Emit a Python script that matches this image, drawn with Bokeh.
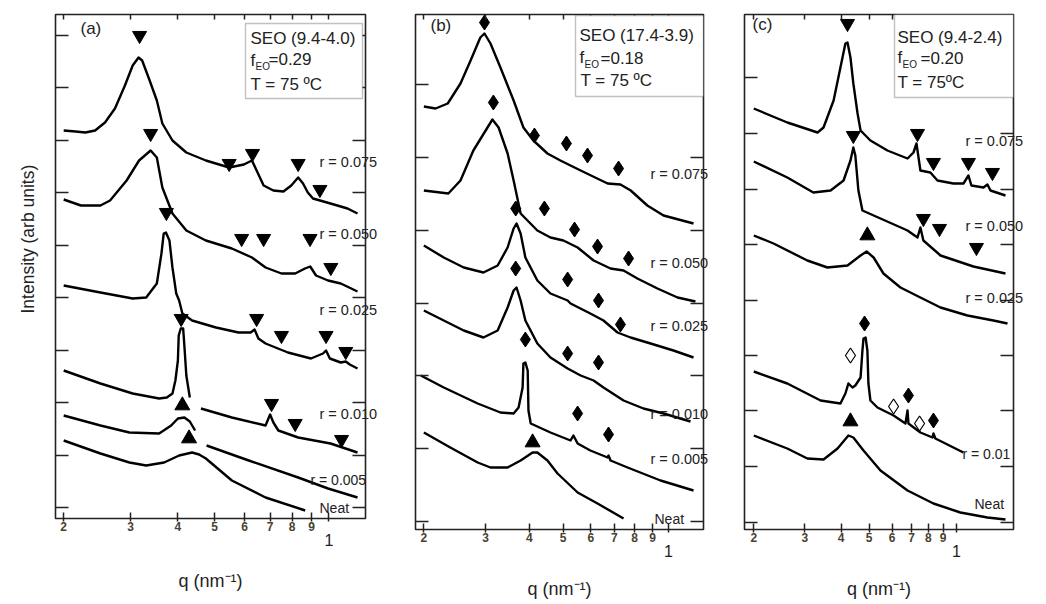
import math
from bokeh.plotting import figure
from bokeh.layouts import row
from bokeh.models import (Range1d, FixedTicker, Label, BoxAnnotation, Title,
                          CustomJSTickFormatter, LogAxis, LinearAxis)
from bokeh.embed import file_html
from bokeh.resources import INLINE

FONT = "Liberation Sans"

# ---------------------------------------------------------------- data
Q_TICKS = [0.2, 0.3, 0.4, 0.5, 0.6, 0.7, 0.8, 0.9, 1.0]

# ---------- panel (a)  SEO (9.4-4.0), intensity in arbitrary offset units
a_075_q = [0.20, 0.215, 0.228, 0.242, 0.257, 0.273, 0.29, 0.304, 0.315, 0.322, 0.337, 0.352, 0.364,
           0.387, 0.421, 0.474, 0.546, 0.597, 0.627, 0.645, 0.673, 0.714, 0.759, 0.796, 0.83, 0.855,
           0.88, 0.908, 1.01, 1.12, 1.19]
a_075_y = [388, 387, 386, 388, 396, 410, 433, 453, 461, 458, 438, 418, 395,
           378, 366, 358, 351, 354, 358, 348, 333, 328, 327, 333, 341, 335,
           326, 320, 315, 310, 305]
a_050_q = [0.20, 0.222, 0.25, 0.265, 0.293, 0.316, 0.339, 0.352, 0.364, 0.387, 0.421, 0.474, 0.555,
           0.627, 0.681, 0.75, 0.815, 0.865, 0.893, 0.925, 0.995, 1.075, 1.19]
a_050_y = [319, 313, 313, 318, 338, 358, 368, 361, 331, 305, 288, 278, 270,
           261, 251, 245, 245, 250, 252, 243, 238, 235, 227]
a_025_q = [0.20, 0.25, 0.304, 0.33, 0.352, 0.362, 0.367, 0.372, 0.38, 0.387, 0.396, 0.403, 0.411,
           0.436, 0.504, 0.578, 0.622, 0.637, 0.652, 0.681, 0.78, 0.897, 0.965, 0.983, 1.006, 1.075,
           1.108, 1.135, 1.19]
a_025_y = [233, 226, 220, 221, 235, 265, 285, 286, 278, 251, 225, 218, 205,
           198, 191, 186, 186, 189, 180, 175, 166, 160, 165, 168, 160, 156,
           157, 154, 150]
a_010_q1 = [0.20, 0.25, 0.304, 0.357, 0.374, 0.387, 0.394, 0.40, 0.402, 0.407, 0.413, 0.416, 0.421, 0.43]
a_010_y1 = [148, 135, 125, 120, 121, 125, 138, 158, 183, 190, 190, 173, 143, 121]
a_010_q2 = [0.46, 0.555, 0.681, 0.693, 0.70, 0.714, 0.736, 0.83, 1.01, 1.19]
a_010_y2 = [110, 101, 93, 100, 104, 96, 88, 81, 75, 66]
a_005_q1 = [0.20, 0.25, 0.298, 0.357, 0.384, 0.40, 0.416, 0.43, 0.444]
a_005_y1 = [103, 93, 86, 85, 93, 100, 101, 97, 88]
a_005_q2 = [0.476, 0.615, 0.83, 0.995, 1.19]
a_005_y2 = [73, 58, 41, 30, 21]
a_neat_q = [0.20, 0.25, 0.298, 0.33, 0.368, 0.403, 0.436, 0.455, 0.474, 0.555, 0.681, 0.866]
a_neat_y = [78, 65, 56, 53, 56, 63, 66, 64, 60, 38, 21, 8]
a_down_q = [0.317, 0.339, 0.546, 0.629, 0.83, 0.947, 0.373, 0.589, 0.673, 0.892, 1.012,
            0.408, 0.645, 0.75, 0.983, 1.108, 0.706, 0.815, 1.08]
a_down_y = [483, 385, 355, 365, 355, 329, 306, 280, 280, 280, 251,
            200, 200, 183, 183, 167, 115, 95, 79]
a_up_q = [0.411, 0.428]
a_up_y = [113, 80]

# ---------- panel (b)  SEO (17.4-3.9)
b_075_q = [0.20, 0.216, 0.234, 0.2545, 0.272, 0.29, 0.298, 0.31, 0.331, 0.361, 0.385, 0.411, 0.451,
           0.491, 0.561, 0.67, 0.729, 0.78, 0.87, 0.968, 1.179]
b_075_y = [423, 421, 426, 446, 469, 492, 496, 486, 462, 429, 402, 389, 376,
           369, 359, 346, 345, 339, 324, 314, 306]
b_050_q = [0.20, 0.235, 0.2545, 0.277, 0.304, 0.314, 0.327, 0.347, 0.361, 0.378, 0.422, 0.46, 0.501,
           0.55, 0.611, 0.683, 0.744, 0.815, 0.93, 1.061, 1.194]
b_050_y = [339, 336, 349, 379, 402, 410, 402, 376, 349, 316, 299, 292, 289,
           282, 269, 261, 259, 251, 241, 232, 228]
b_025_q = [0.20, 0.228, 0.26, 0.296, 0.325, 0.347, 0.361, 0.368, 0.378, 0.39, 0.422, 0.46, 0.515,
           0.525, 0.598, 0.652, 0.715, 0.779, 0.889, 1.033, 1.179]
b_025_y = [284, 272, 262, 257, 264, 282, 301, 306, 296, 272, 249, 236, 229,
           226, 216, 209, 197, 192, 186, 179, 172]
b_010_q = [0.20, 0.228, 0.26, 0.296, 0.325, 0.347, 0.361, 0.368, 0.378, 0.39, 0.422, 0.46, 0.515,
           0.561, 0.611, 0.652, 0.744, 0.848, 0.968, 1.156]
b_010_y = [219, 209, 199, 192, 199, 222, 239, 242, 229, 209, 186, 172, 161,
           154, 149, 142, 129, 121, 116, 108]
b_005_q = [0.196, 0.228, 0.285, 0.331, 0.361, 0.373, 0.383, 0.385, 0.39, 0.396, 0.398, 0.404, 0.46,
           0.525, 0.535, 0.55, 0.598, 0.67, 0.674, 0.683, 0.764, 0.949, 1.179]
b_005_y = [154, 142, 126, 117, 116, 122, 142, 166, 167, 159, 119, 106, 97,
           89, 94, 86, 79, 72, 74, 69, 62, 49, 39]
b_neat_q = [0.20, 0.238, 0.285, 0.31, 0.347, 0.378, 0.409, 0.422, 0.451, 0.482, 0.55, 0.627, 0.744]
b_neat_y = [97, 82, 67, 62, 62, 69, 77, 77, 69, 56, 37, 26, 11]
b_dia_q = [0.298, 0.316, 0.414, 0.511, 0.587, 0.72, 0.366, 0.442, 0.539, 0.627, 0.769,
           0.366, 0.515, 0.631, 0.729, 0.39, 0.515, 0.631, 0.55, 0.674]
b_dia_y = [507, 427, 394, 386, 374, 361, 321, 321, 300, 283, 271,
           261, 250, 229, 205, 190, 176, 167, 116, 95]
b_up_q = [0.409]
b_up_y = [87]

# ---------- panel (c)  SEO (9.4-2.4)
c_075_q = [0.20, 0.261, 0.332, 0.348, 0.377, 0.398, 0.414, 0.421, 0.431, 0.441, 0.456, 0.467, 0.505,
           0.578, 0.678, 0.711, 0.728, 0.74, 0.751, 0.813, 0.86, 0.976, 1.057, 1.10, 1.126, 1.239,
           1.279, 1.31, 1.476]
c_075_y = [421, 407, 397, 402, 429, 462, 486, 487, 472, 446, 416, 399, 389,
           379, 371, 377, 386, 372, 359, 357, 349, 346, 346, 354, 344, 342,
           345, 339, 334]
c_050_q = [0.20, 0.261, 0.321, 0.368, 0.408, 0.431, 0.441, 0.448, 0.459, 0.474, 0.547, 0.678, 0.734,
           0.751, 0.769, 0.881, 1.144, 1.476]
c_050_y = [368, 352, 337, 339, 349, 369, 382, 374, 339, 319, 311, 299, 292,
           302, 289, 274, 263, 256]
c_025_q = [0.20, 0.234, 0.306, 0.359, 0.421, 0.467, 0.49, 0.518, 0.56, 0.641, 0.751, 0.881, 1.091,
           1.341, 1.5]
c_025_y = [294, 286, 269, 262, 264, 274, 278, 272, 256, 242, 232, 222, 214, 209, 206]
c_010_q = [0.20, 0.261, 0.34, 0.398, 0.414, 0.424, 0.438, 0.448, 0.467, 0.474, 0.478, 0.486, 0.493,
           0.497, 0.505, 0.534, 0.607, 0.667, 0.678, 0.683, 0.751, 0.827, 0.833, 0.846, 0.976, 1.057]
c_010_y = [158, 146, 129, 126, 136, 146, 142, 144, 152, 179, 191, 192, 179,
           146, 129, 122, 114, 106, 119, 106, 97, 92, 96, 91, 82, 77]
c_neat_q = [0.20, 0.261, 0.306, 0.348, 0.389, 0.424, 0.441, 0.478, 0.547, 0.678, 0.833, 1.032, 1.279, 1.476]
c_neat_y = [94, 81, 71, 70, 81, 94, 92, 79, 59, 39, 26, 17, 12, 10]
c_down_q = [0.421, 0.441, 0.734, 0.833, 1.10, 1.331, 0.769, 0.874, 1.172]
c_down_y = [506, 394, 396, 367, 367, 357, 311, 301, 282]
c_up_q = [0.493, 0.431]
c_up_y = [294, 108]
c_dia_q = [0.482, 0.683, 0.833]
c_dia_y = [206, 134, 109]
c_odia_q = [0.431, 0.607, 0.746]
c_odia_y = [174, 123, 106]

SAMPLES = [("SEO (9.4-4.0)", "0.29", "T = 75 ºC", "(a)"),
           ("SEO (17.4-3.9)", "0.18", "T = 75 ºC", "(b)"),
           ("SEO (9.4-2.4)", "0.20", "T = 75ºC", "(c)")]

X_LABEL = "q (nm\u207b\u00b9)"
Y_LABEL = "Intensity (arb units)"

# ---------------------------------------------------------------- helpers
def join(*segs):
    xs, ys = [], []
    for i, (q, y) in enumerate(segs):
        if i:
            xs.append(float("nan"))
            ys.append(float("nan"))
        xs += list(q)
        ys += list(y)
    return xs, ys


EMPTY = "return ''"
DIGITS = "return tick > 0.95 ? '' : String(Math.round(tick*10))"
TICK_COL = "#222222"


def style_axis(ax, tick_in, labels=False):
    ax.axis_line_color = None
    ax.minor_tick_line_color = None
    ax.major_tick_in = tick_in
    ax.major_tick_out = 3 if labels else 0
    ax.major_tick_line_color = TICK_COL
    ax.major_tick_line_width = 1.5
    ax.major_label_standoff = 0
    ax.formatter = CustomJSTickFormatter(code=DIGITS if labels else EMPTY)
    ax.major_label_text_font = FONT
    ax.major_label_text_font_size = "12px" if labels else "0px"
    ax.major_label_text_font_style = "bold"
    ax.major_label_text_color = "#4a3f2e"


def panel(geo, curves, markers, sample, t):
    w, bl, br, bb, xr, ytop, yticks = geo
    p = figure(width=w, height=604, x_axis_type="log",
               x_range=Range1d(*xr), y_range=Range1d(0, ytop),
               output_backend="svg", toolbar_location=None,
               min_border_left=bl, min_border_right=br,
               min_border_top=14, min_border_bottom=bb)
    if "frame_align" in p.properties():
        p.frame_align = False
    p.grid.visible = False
    p.background_fill_color = "white"
    p.border_fill_color = "white"
    p.outline_line_color = TICK_COL
    p.outline_line_width = 1.6

    # bottom: digit labels
    style_axis(p.xaxis[0], 6, labels=True)
    p.xaxis[0].ticker = FixedTicker(ticks=Q_TICKS)
    # bottom: the decade "1" and the axis title
    dec = LogAxis(ticker=FixedTicker(ticks=[1.0]))
    dec.axis_line_color = None
    dec.major_tick_line_color = None
    dec.minor_tick_line_color = None
    dec.major_tick_in = 0
    dec.major_tick_out = 0
    dec.major_label_standoff = t["one_standoff"]
    dec.formatter = CustomJSTickFormatter(code="return '1'")
    dec.major_label_text_font = FONT
    dec.major_label_text_font_size = "16px"
    dec.major_label_text_color = "#222222"
    dec.axis_label = X_LABEL
    dec.axis_label_standoff = t["xlab_standoff"]
    dec.axis_label_text_font = FONT
    dec.axis_label_text_font_size = "18px"
    dec.axis_label_text_font_style = "normal"
    dec.axis_label_text_color = "#222222"
    p.add_layout(dec, "below")

    # left ticks
    style_axis(p.yaxis[0], 13)
    p.yaxis[0].ticker = FixedTicker(ticks=yticks)
    # top ticks
    top = LogAxis(ticker=FixedTicker(ticks=Q_TICKS))
    style_axis(top, 5)
    p.add_layout(top, "above")
    # right: tick marks (minor) + sample labels (major)
    r_pos = [r[0] for r in t["r_axis"]]
    right = LinearAxis(ticker=FixedTicker(ticks=r_pos, minor_ticks=yticks))
    right.axis_line_color = None
    right.major_tick_line_color = None
    right.major_tick_in = 0
    right.major_tick_out = 0
    right.minor_tick_in = 13
    right.minor_tick_out = 0
    right.minor_tick_line_color = TICK_COL
    right.minor_tick_line_width = 1.5
    right.major_label_standoff = t["r_standoff"]
    right.major_label_overrides = {float(r[0]): r[1] for r in t["r_axis"]}
    right.major_label_text_font = FONT
    right.major_label_text_font_size = "14.5px"
    right.major_label_text_color = "#222222"
    p.add_layout(right, "right")

    for xs, ys in curves:
        p.line(xs, ys, line_color="black", line_width=2.4, line_join="round")

    for kind, q, y in markers:
        if kind == "down":
            p.scatter(q, y, marker="inverted_triangle", size=14, color="black")
        elif kind == "up":
            p.scatter(q, y, marker="triangle", size=15, color="black")
        elif kind == "dia":
            p.scatter(q, y, marker="diamond", size=15, color="black")
        else:
            p.scatter(q, y, marker="diamond", size=15, fill_color="white",
                      line_color="black", line_width=1.2)

    name, fEO, temp, tag = sample
    bx = t["box"]
    p.add_layout(BoxAnnotation(left=bx[0], right=bx[1], top=bx[2], bottom=bx[3],
                               left_units="screen", right_units="screen",
                               top_units="screen", bottom_units="screen",
                               fill_color="white", fill_alpha=1.0,
                               line_color="#333333", line_width=1.4))

    def lab(x, y, text, size, align="left"):
        p.add_layout(Label(x=x, y=y, x_units="screen", y_units="screen", text=text,
                           text_font=FONT, text_font_size=size, text_color="#222222",
                           text_align=align, text_baseline="middle"))

    lab(*t["tag"], tag, "17px")
    lab(*t["name"], name, "17px")
    lab(*t["f"], "f", "17px")
    lab(*t["eo"], "EO", "10px")
    lab(*t["fval"], "=" + fEO, "17px")
    lab(*t["temp"], temp, "17px")
    for (x, y, s) in t["r_in"]:
        lab(x, y, s, "14px")
    lab(*t["neat"], "Neat", "14px")
    if "ylab" in t:
        p.add_layout(Title(text=Y_LABEL, align="left", offset=t["ylab"],
                           vertical_align="top", standoff=32,
                           text_font=FONT, text_font_size="17.5px",
                           text_font_style="normal", text_color="#222222"), "left")
    return p


# ---------------------------------------------------------------- panels
pa = panel(
    (380, 55, 12, 86, (0.1903, 1.249), 504, [11, 63, 116, 168, 221, 273, 326, 378, 431, 483]),
    [(a_075_q, a_075_y), (a_050_q, a_050_y), (a_025_q, a_025_y),
     join((a_010_q1, a_010_y1), (a_010_q2, a_010_y2)),
     join((a_005_q1, a_005_y1), (a_005_q2, a_005_y2)),
     (a_neat_q, a_neat_y)],
    [("down", a_down_q, a_down_y), ("up", a_up_q, a_up_y)],
    SAMPLES[0],
    dict(box=(190, 307, 495, 420), tag=(25, 490), name=(195, 480), f=(195, 458),
         eo=(200, 452), fval=(213, 459), temp=(195, 434),
         r_axis=[(357, "r = 0.075"), (285, "r = 0.050"), (209, "r = 0.025"),
                 (105, "r = 0.010")],
         r_standoff=-46,
         r_in=[(255, 39, "r = 0.005")],
         neat=(264, 11), one_standoff=0, xlab_standoff=22,
         ylab=205))

pb = panel(
    (340, 35, 17, 75, (0.1893, 1.259), 515, [8, 81, 154, 226, 299, 372, 445]),
    [(b_075_q, b_075_y), (b_050_q, b_050_y), (b_025_q, b_025_y), (b_010_q, b_010_y),
     (b_005_q, b_005_y), (b_neat_q, b_neat_y)],
    [("dia", b_dia_q, b_dia_y), ("up", b_up_q, b_up_y)],
    SAMPLES[1],
    dict(box=(160, 288, 514, 433), tag=(15, 504), name=(164, 494), f=(164, 472),
         eo=(169, 465), fval=(185, 471), temp=(165, 449),
         r_axis=[(356, "r = 0.075"), (267, "r = 0.050"), (204, "r = 0.025"),
                 (116, "r = 0.010"), (71, "r = 0.005")],
         r_standoff=-53,
         r_in=[],
         neat=(239, 11), one_standoff=0, xlab_standoff=19))

pc = panel(
    (326, 24, 33, 75, (0.1858, 1.573), 515, [7, 63, 119, 174, 229, 285, 340, 396, 452]),
    [(c_075_q, c_075_y), (c_050_q, c_050_y), (c_025_q, c_025_y), (c_010_q, c_010_y),
     (c_neat_q, c_neat_y)],
    [("down", c_down_q, c_down_y), ("up", c_up_q, c_up_y), ("dia", c_dia_q, c_dia_y),
     ("odia", c_odia_q, c_odia_y)],
    SAMPLES[2],
    dict(box=(150, 269, 515, 432), tag=(8, 505), name=(153, 492), f=(153, 472),
         eo=(158, 465), fval=(176, 471), temp=(153, 447),
         r_axis=[(389, "r = 0.075"), (304, "r = 0.050"), (232, "r = 0.025")],
         r_standoff=-48,
         r_in=[(218, 76, "r = 0.01")],
         neat=(230, 26), one_standoff=0, xlab_standoff=19))

layout = row(pa, pb, pc, spacing=0)
open("out.html", "w").write(file_html(layout, INLINE))
